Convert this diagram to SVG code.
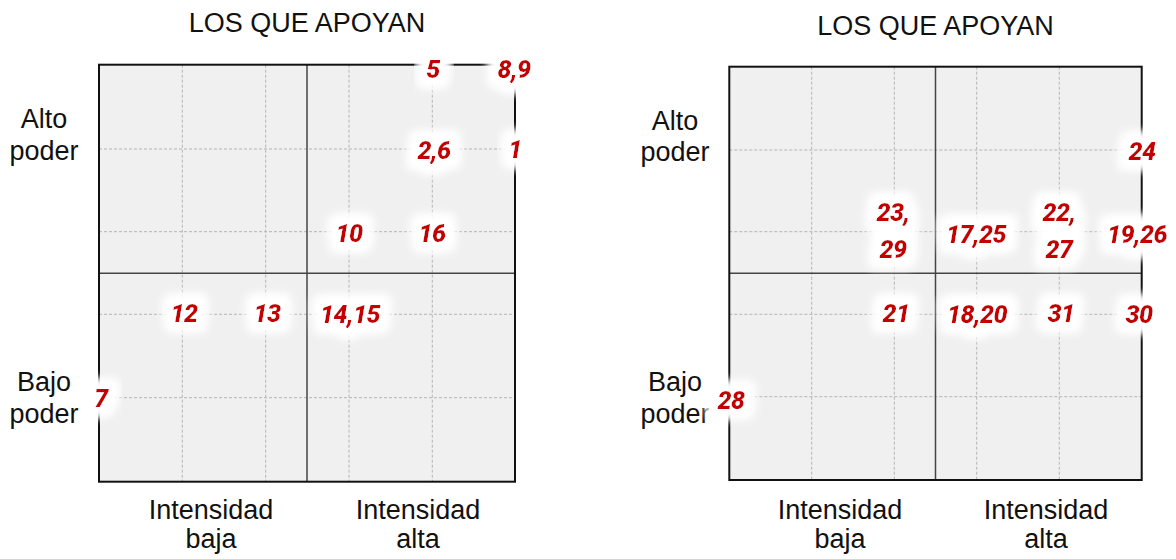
<svg xmlns="http://www.w3.org/2000/svg" width="1176" height="559" viewBox="0 0 1176 559">
<defs>
<filter id="glow" x="-80%" y="-80%" width="260%" height="260%">
<feMorphology in="SourceAlpha" operator="dilate" radius="9" result="d"/>
<feGaussianBlur in="d" stdDeviation="5" result="b"/>
<feFlood flood-color="#ffffff"/>
<feComposite in2="b" operator="in" result="w"/>
<feMerge><feMergeNode in="w"/><feMergeNode in="w"/><feMergeNode in="SourceGraphic"/></feMerge>
</filter>
</defs>
<style>
.bg{fill:#f0f0f0;stroke:none}
.frame{fill:none;stroke:#111;stroke-width:2}
.mid{stroke:#444;stroke-width:1.5;fill:none}
.grid{stroke:#b4b4b4;stroke-width:1;stroke-dasharray:3 2;fill:none}
.title{font-family:"Liberation Sans",Arial,sans-serif;font-size:27px;fill:#111;text-anchor:middle}
.ax{font-family:"Liberation Sans",Arial,sans-serif;font-size:27px;fill:#111;text-anchor:middle}
.num{font-family:Roboto,"Liberation Sans",sans-serif;font-style:italic;font-weight:900;font-size:25px;letter-spacing:-0.5px;fill:#c40000;text-anchor:middle;filter:url(#glow)}
</style>
<rect width="1176" height="559" fill="#ffffff"/>

<g id="chart-left">
<rect class="bg" x="99" y="64.7" width="416" height="417"/>
<g id="grid-left">
<line class="grid" x1="182.3" y1="64.7" x2="182.3" y2="481.7"/>
<line class="grid" x1="265.7" y1="64.7" x2="265.7" y2="481.7"/>
<line class="grid" x1="349" y1="64.7" x2="349" y2="481.7"/>
<line class="grid" x1="432.3" y1="64.7" x2="432.3" y2="481.7"/>
<line class="grid" x1="99" y1="149" x2="515" y2="149"/>
<line class="grid" x1="99" y1="231.7" x2="515" y2="231.7"/>
<line class="grid" x1="99" y1="314.3" x2="515" y2="314.3"/>
<line class="grid" x1="99" y1="397.7" x2="515" y2="397.7"/>
<line class="mid" x1="307" y1="64.7" x2="307" y2="481.7"/>
<line class="mid" x1="99" y1="273.3" x2="515" y2="273.3"/>
</g>
<rect class="frame" x="99" y="64.7" width="416" height="417"/>
<text class="title" x="307" y="32">LOS QUE APOYAN</text>
<text class="ax" x="44" y="128">Alto</text>
<text class="ax" x="44" y="160">poder</text>
<text class="ax" x="44" y="391">Bajo</text>
<text class="ax" x="44" y="423">poder</text>
<text class="ax" x="211" y="519">Intensidad</text>
<text class="ax" x="211" y="548">baja</text>
<text class="ax" x="418" y="519">Intensidad</text>
<text class="ax" x="418" y="548">alta</text>
</g>

<g id="labels-left">
<g id="n5"><text class="num" x="433" y="78">5</text></g>
<g id="n8-9"><text class="num" x="514" y="78">8,9</text></g>
<g id="n2-6"><text class="num" x="434" y="159">2,6</text></g>
<g id="n1"><text class="num" x="515" y="158">1</text></g>
<g id="n10"><text class="num" x="349" y="242">10</text></g>
<g id="n16"><text class="num" x="432" y="242">16</text></g>
<g id="n12"><text class="num" x="184" y="322">12</text></g>
<g id="n13"><text class="num" x="267" y="322">13</text></g>
<g id="n14-15"><text class="num" x="350" y="323">14,15</text></g>
<g id="n7"><text class="num" x="101" y="407">7</text></g>
</g>

<g id="chart-right">
<rect class="bg" x="729.3" y="66.7" width="412.4" height="413.3"/>
<g id="grid-right">
<line class="grid" x1="811.7" y1="66.7" x2="811.7" y2="480"/>
<line class="grid" x1="894.3" y1="66.7" x2="894.3" y2="480"/>
<line class="grid" x1="976.7" y1="66.7" x2="976.7" y2="480"/>
<line class="grid" x1="1059.3" y1="66.7" x2="1059.3" y2="480"/>
<line class="grid" x1="729.3" y1="150" x2="1141.7" y2="150"/>
<line class="grid" x1="729.3" y1="231.7" x2="1141.7" y2="231.7"/>
<line class="grid" x1="729.3" y1="314.3" x2="1141.7" y2="314.3"/>
<line class="grid" x1="729.3" y1="396.7" x2="1141.7" y2="396.7"/>
<line class="mid" x1="935.5" y1="66.7" x2="935.5" y2="480"/>
<line class="mid" x1="729.3" y1="273.3" x2="1141.7" y2="273.3"/>
</g>
<rect class="frame" x="729.3" y="66.7" width="412.4" height="413.3"/>
<text class="title" x="935.5" y="35">LOS QUE APOYAN</text>
<text class="ax" x="675" y="130">Alto</text>
<text class="ax" x="675" y="161">poder</text>
<text class="ax" x="675" y="391">Bajo</text>
<text class="ax" x="675" y="423">poder</text>
<text class="ax" x="840" y="519">Intensidad</text>
<text class="ax" x="840" y="548">baja</text>
<text class="ax" x="1046" y="519">Intensidad</text>
<text class="ax" x="1046" y="548">alta</text>
</g>

<g id="labels-right">
<g id="n24"><text class="num" x="1142" y="160">24</text></g>
<g id="n23-29"><text class="num" x="893" y="220.5"><tspan x="893" y="220.5">23,</tspan><tspan x="893" y="258">29</tspan></text></g>
<g id="n17-25"><text class="num" x="976" y="243">17,25</text></g>
<g id="n22-27"><text class="num" x="1059" y="221"><tspan x="1059" y="221">22,</tspan><tspan x="1059" y="258">27</tspan></text></g>
<g id="n19-26"><text class="num" x="1137" y="243">19,26</text></g>
<g id="n21"><text class="num" x="896" y="322">21</text></g>
<g id="n18-20"><text class="num" x="977" y="323">18,20</text></g>
<g id="n31"><text class="num" x="1061" y="322">31</text></g>
<g id="n30"><text class="num" x="1139" y="323">30</text></g>
<g id="n28"><text class="num" x="731" y="409">28</text></g>
</g>
</svg>
